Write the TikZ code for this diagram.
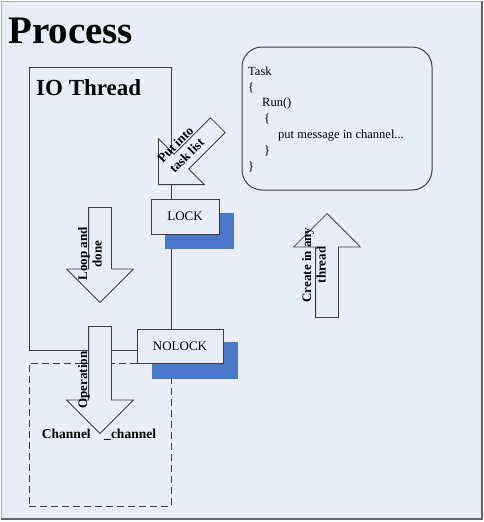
\documentclass[tikz,border=0pt]{standalone}
\usepackage{fontspec}
\setmainfont{Liberation Serif}
\usetikzlibrary{shapes,arrows,positioning}
\definecolor{bgblue}{HTML}{E8EDF8}
\definecolor{edge}{HTML}{3C3C46}
\definecolor{shadowblue}{HTML}{4A78C8}
\tikzstyle{block} = [rectangle,draw=edge,line width=1pt,fill=bgblue,inner sep=0pt,
  font=\fontsize{13}{15}\selectfont]
\tikzstyle{shadowbox} = [rectangle,fill=shadowblue,inner sep=0pt]
\tikzstyle{frame} = [rectangle,draw=edge,line width=1pt,inner sep=0pt]
\tikzstyle{bigarrow} = [single arrow,draw=edge,line width=0.8pt,fill=bgblue,
  inner xsep=0pt,inner ysep=11pt,single arrow head extend=22pt,anchor=tip]
\tikzstyle{arrowtext} = [font=\bfseries\fontsize{13}{14.5}\selectfont,align=center,inner sep=0pt]

\begin{document}
\begin{tikzpicture}[x=1pt, y=-1pt]
\useasboundingbox (0,0) rectangle (484,522);
\fill[bgblue] (1,1) rectangle (482,519);
\draw[gray!60, line width=1pt] (482,1) -- (1,1) -- (1,519);
\draw[edge!80, line width=1.5pt] (1,519) -- (482,519) -- (482,1);

\node [anchor=base west, inner sep=0pt, font=\bfseries\fontsize{39}{40}\selectfont] (process) at (8,43) {Process};

% thread and channel areas
\node [frame, minimum width=142pt, minimum height=283pt] (io_thread) at (100,208.5) {};
\node [anchor=base west, inner sep=0pt, font=\bfseries\fontsize{23}{24}\selectfont] (io_title) at (36,95) {IO Thread};
\node [frame, dash pattern=on 7pt off 4pt, minimum width=142pt, minimum height=143pt] (channel_area) at (100,434.5) {};

% lock boxes
\node [shadowbox, minimum width=69pt, minimum height=36pt] (lock_shadow) at (199.5,231) {};
\node [block, minimum width=68pt, minimum height=35pt] (lock) at (185,216.5) {LOCK};
\node [shadowbox, minimum width=86pt, minimum height=37pt] (nolock_shadow) at (195,360.5) {};
\node [block, minimum width=86pt, minimum height=34pt] (nolock) at (180,346) {NOLOCK};

% task
\node [frame, rounded corners=20pt, minimum width=190pt, minimum height=143pt] (task) at (337,118.5) {};
\node [anchor=north west, align=left, inner sep=0pt, font=\fontsize{12.5}{15.8}\selectfont] (task_code) at (248,66.5)
  {Task\\\{\\\hspace*{14pt}Run()\\\hspace*{16pt}\{\\\hspace*{30pt}put message in channel...\\\hspace*{16pt}\}\\\}};

% big arrows
\node [bigarrow, rotate=-135, minimum height=84pt, minimum width=65pt, inner ysep=10pt] (put_arrow) at (158,185) {};
\node [arrowtext, rotate=45, font=\bfseries\fontsize{13}{16}\selectfont] (put_text) at (181,150) {Put into\\task list};

\node [bigarrow, rotate=-90, minimum height=95pt, minimum width=66pt] (loop_arrow) at (100,303) {};
\node [arrowtext, rotate=90] (loop_text) at (90,254) {Loop and\\done};

\node [bigarrow, rotate=90, minimum height=104pt, minimum width=66pt] (create_arrow) at (327,213) {};
\node [arrowtext, rotate=90] (create_text) at (314,265) {Create in any\\thread};

\node [bigarrow, rotate=-90, minimum height=107pt, minimum width=66pt] (op_arrow) at (100,434) {};
\node [arrowtext, rotate=90] (op_text) at (84,380) {Operation};

\node [inner sep=0pt, font=\bfseries\fontsize{13.5}{15}\selectfont] (channel_text) at (99,435) {Channel\quad\_channel};
\end{tikzpicture}
\end{document}
